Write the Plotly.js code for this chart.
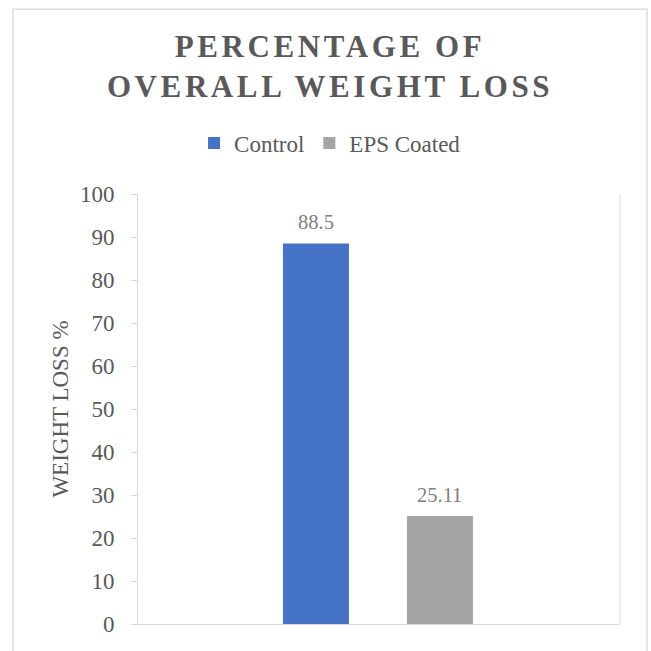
<!DOCTYPE html>
<html>
<head>
<meta charset="utf-8">
<script src="https://cdn.plot.ly/plotly-3.0.1.min.js"></script>
<style>
  html, body { margin: 0; padding: 0; background: #ffffff; }
  #chart { width: 651px; height: 651px; }
  .gtitle { letter-spacing: 3.6px; }
</style>
</head>
<body>
<div id="chart"></div>
<script>
// ---- data ----
const seriesNames = ["Control", "EPS Coated"];
const weightLoss = [88.5, 25.11];
const seriesColors = ["#4472C4", "#A5A5A5"];
const yTickValues = [0, 10, 20, 30, 40, 50, 60, 70, 80, 90, 100];

const FONT = "Liberation Serif, Times New Roman, serif";

const traces = seriesNames.map((name, i) => ({
  type: "bar",
  name: name,
  x: [name],
  y: [weightLoss[i]],
  width: 0.532,
  marker: { color: seriesColors[i], line: { width: 0 } },
  hoverinfo: "skip"
}));

const annotations = seriesNames.map((name, i) => ({
  x: name,
  y: weightLoss[i],
  xref: "x",
  yref: "y",
  text: String(weightLoss[i]),
  showarrow: false,
  yanchor: "bottom",
  yshift: 8,
  font: { family: FONT, size: 20.5, color: "#7F7F7F" }
}));

const layout = {
  width: 651,
  height: 651,
  margin: { l: 138, r: 31, t: 194, b: 27 },
  paper_bgcolor: "#ffffff",
  plot_bgcolor: "#ffffff",
  barmode: "overlay",
  showlegend: true,
  title: {
    text: "PERCENTAGE OF<br>OVERALL WEIGHT LOSS",
    font: { family: FONT, size: 31, color: "#595959", weight: "bold" },
    x: 0.507,
    xanchor: "center",
    xref: "container",
    y: 1 - 57 / 651,
    yanchor: "top",
    yref: "container"
  },
  legend: {
    orientation: "h",
    xref: "container",
    yref: "container",
    x: 0.507,
    xanchor: "center",
    y: 1 - 143 / 651,
    yanchor: "middle",
    font: { family: FONT, size: 23, color: "#595959" },
    itemclick: false,
    itemdoubleclick: false
  },
  xaxis: {
    type: "category",
    range: [-1.435, 2.452],
    showticklabels: false,
    ticks: "",
    showgrid: false,
    zeroline: false,
    showline: true,
    linecolor: "#D9D9D9",
    linewidth: 1,
    fixedrange: true
  },
  yaxis: {
    range: [0, 100],
    tickvals: yTickValues,
    ticktext: yTickValues.map(String),
    ticks: "outside",
    ticklen: 6,
    tickcolor: "#D9D9D9",
    ticklabelstandoff: 12,
    tickfont: { family: FONT, size: 23, color: "#595959" },
    showgrid: false,
    zeroline: false,
    showline: true,
    linecolor: "#D9D9D9",
    linewidth: 1,
    fixedrange: true,
    title: {
      text: "WEIGHT LOSS %",
      font: { family: FONT, size: 23, color: "#595959" },
      standoff: 4
    }
  },
  shapes: [
    {
      type: "line", xref: "paper", yref: "paper",
      x0: 1, x1: 1, y0: 0, y1: 1,
      line: { color: "#D9D9D9", width: 1 }
    },
    {
      type: "rect", xref: "paper", yref: "paper",
      x0: -0.2593, x1: 1.056, y0: -0.1, y1: 1.43,
      line: { color: "#D9D9D9", width: 1.3 },
      fillcolor: "rgba(0,0,0,0)",
      layer: "below"
    }
  ],
  annotations: annotations
};

Plotly.newPlot("chart", traces, layout, { displayModeBar: false, staticPlot: true });
</script>
</body>
</html>
